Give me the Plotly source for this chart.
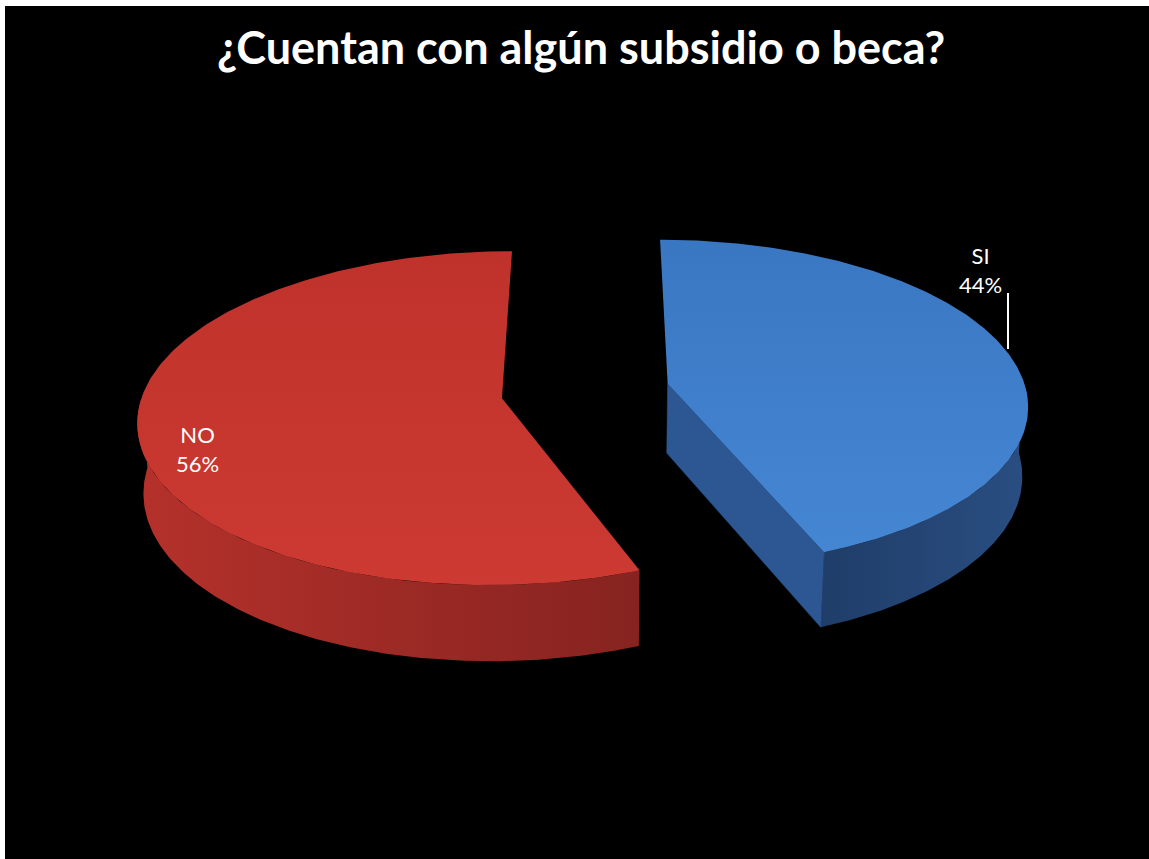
import numpy as np
import plotly.graph_objects as go

# ---- data ----
labels = ["SI", "NO"]
values = [44, 56]
title_text = "¿Cuentan con algún subsidio o beca?"

# ---- style ----
top_grad = {"SI": ("#4586D3", "#3A77C2"), "NO": ("#CC3A32", "#BF322B")}
wall_grad = {"SI": ("#1F3D68", "#2A4E82"), "NO": ("#B5312B", "#862320")}
radial_color = {"SI": "#2C5792", "NO": "#9A2924"}

W, H = 1149, 859
alpha = np.radians(27.0)
D = 7.5
F = 2690.0
Xc = 0.03
cx, cy = 596.0, 391.0
h = 0.22
explode = 0.235


def proj(X, Y, Z):
    X = np.asarray(X, dtype=float)
    Y = np.asarray(Y, dtype=float)
    Z = np.asarray(Z, dtype=float)
    yc = Y * np.cos(alpha) + Z * np.sin(alpha)
    d = D + Z * np.cos(alpha) - Y * np.sin(alpha)
    return cx + F * (X - Xc) / d, cy - F * yc / d


def poly(xs, ys, colors, gtype="horizontal"):
    xs = list(xs) + [xs[0]]
    ys = list(ys) + [ys[0]]
    if isinstance(colors, str):
        return go.Scatter(x=xs, y=ys, mode="lines", fill="toself", fillcolor=colors,
                          line=dict(color=colors, width=0.5), hoverinfo="skip",
                          showlegend=False)
    return go.Scatter(x=xs, y=ys, mode="lines", fill="toself",
                      fillgradient=dict(type=gtype,
                                        colorscale=[[0, colors[0]], [1, colors[1]]]),
                      line=dict(width=0), hoverinfo="skip", showlegend=False)


def signed_area(px, py):
    px, py = np.asarray(px), np.asarray(py)
    return 0.5 * (np.dot(px, np.roll(py, -1)) - np.dot(py, np.roll(px, -1)))


fig = go.Figure()

total = float(sum(values))
start = 0.0
for lab, val in zip(labels, values):
    t0 = start
    t1 = start + 2 * np.pi * val / total
    start = t1
    mid = (t0 + t1) / 2
    ex, ez = explode * np.sin(mid), explode * np.cos(mid)

    # outer wall (front part)
    a0 = max(t0, np.pi / 2)
    a1 = min(t1, 3 * np.pi / 2)
    if a1 > a0:
        ang = np.linspace(a0, a1, 160)
        Xs = ex + np.sin(ang)
        Zs = ez + np.cos(ang)
        xt, yt = proj(Xs, np.zeros_like(Xs), Zs)
        xb, yb = proj(Xs, -h * np.ones_like(Xs), Zs)
        fig.add_trace(poly(np.r_[xt, xb[::-1]], np.r_[yt, yb[::-1]], wall_grad[lab]))

    # radial walls: only front-facing ones that show a real face
    for th, sgn in ((t0, 1), (t1, -1)):
        Xe, Ze = ex + np.sin(th), ez + np.cos(th)
        px, py = proj([ex, Xe, Xe, ex], [0, 0, -h, -h], [ez, Ze, Ze, ez])
        sa = signed_area(px, py)
        if sa * sgn < 0 and abs(sa) > 1500:
            fig.add_trace(poly(px, py, radial_color[lab]))

    # top face
    ang = np.linspace(t0, t1, 240)
    Xs = np.r_[ex, ex + np.sin(ang)]
    Zs = np.r_[ez, ez + np.cos(ang)]
    px, py = proj(Xs, np.zeros_like(Xs), Zs)
    fig.add_trace(poly(px, py, top_grad[lab], gtype="vertical"))

# data labels
pct = {lab: round(100 * v / total) for lab, v in zip(labels, values)}
label_pos = {"SI": (980, 270), "NO": (197, 449)}
for lab in labels:
    x, y = label_pos[lab]
    fig.add_annotation(x=x, y=y, xref="x", yref="y", text=f"{lab}<br>{pct[lab]}%",
                       showarrow=False, align="center",
                       font=dict(family="Lato, Open Sans, sans-serif", size=22, color="white"))

# leader line for SI
fig.add_shape(type="line", x0=1008, x1=1008, y0=293, y1=349, xref="x", yref="y",
              line=dict(color="white", width=2))

# title
fig.add_annotation(x=581, y=47, xref="x", yref="y", text=f"<b>{title_text}</b>",
                   showarrow=False,
                   font=dict(family="Lato, Open Sans, sans-serif", size=45, color="white"))

# black panel with thin white frame at top/left
fig.add_shape(type="rect", x0=5, x1=W, y0=6, y1=H, xref="x", yref="y",
              fillcolor="black", line=dict(width=0), layer="below")

fig.update_layout(
    width=W, height=H,
    margin=dict(l=0, r=0, t=0, b=0),
    paper_bgcolor="white", plot_bgcolor="white",
    xaxis=dict(range=[0, W], visible=False, fixedrange=True),
    yaxis=dict(range=[H, 0], visible=False, fixedrange=True),
    showlegend=False,
)

fig.write_html("out.html")
